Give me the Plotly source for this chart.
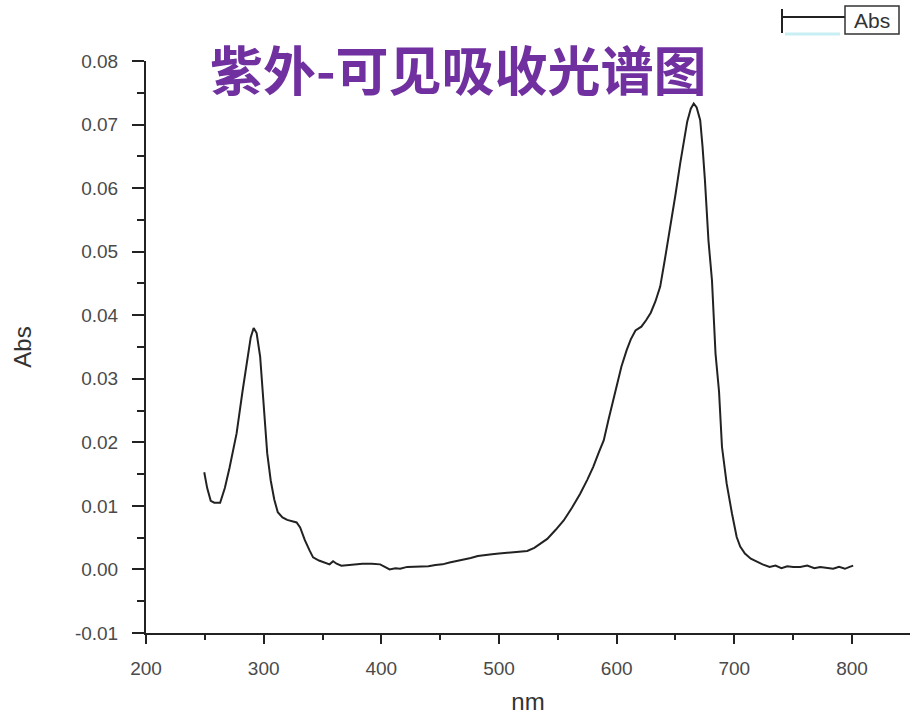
import plotly.graph_objects as go

wavelength_nm = [
    249.5, 252, 255, 258, 263, 267, 271, 277, 282, 286, 289, 291.5, 294, 297, 300,
    303, 306, 309, 312, 316, 320, 324, 328, 331, 335, 339, 342, 347, 352, 356,
    359, 362, 366, 372, 378, 384, 392, 399, 403, 407, 412, 416, 422, 428, 434,
    440, 446, 452, 458, 464, 470, 476, 482, 488, 494, 500, 506, 512, 518, 524,
    530, 536, 541, 548, 555, 562, 569, 575, 580, 585, 589, 593, 597, 600, 604,
    608.5, 612, 616, 621, 625, 629, 633, 637, 641, 645, 650, 654, 657, 660, 663,
    665.5, 668, 671, 673, 675, 678, 681, 684, 687, 689.5, 693.5, 698, 702, 705, 709,
    714, 719, 724, 730, 735, 740, 745, 750, 756, 762, 768, 773, 778, 784, 789,
    794, 798, 801,
]
absorbance = [
    0.0153, 0.0128, 0.0108, 0.0105, 0.0105, 0.0128, 0.0160, 0.0214, 0.0280, 0.0330, 0.0365, 0.0380, 0.0372, 0.0335, 0.0260,
    0.0183, 0.0140, 0.0110, 0.0090, 0.0082, 0.0078, 0.0076, 0.0074, 0.0066, 0.0046, 0.0030, 0.0019, 0.0014, 0.0010, 0.0008,
    0.0013, 0.0009, 0.0006, 0.0007, 0.0008, 0.0009, 0.0009, 0.0008, 0.0004, 0.0000, 0.0002, 0.0001, 0.0004, 0.0004, 0.0005,
    0.0005, 0.0007, 0.0008, 0.0011, 0.0013, 0.0016, 0.0018, 0.0021, 0.0023, 0.0024, 0.0025, 0.0026, 0.0027, 0.0028, 0.0029,
    0.0034, 0.0041, 0.0048, 0.0062, 0.0077, 0.0097, 0.0119, 0.0141, 0.0161, 0.0185, 0.0203, 0.0235, 0.0266, 0.0290, 0.0319,
    0.0345, 0.0362, 0.0376, 0.0382, 0.0392, 0.0404, 0.0422, 0.0445, 0.0488, 0.0532, 0.0590, 0.0639, 0.0672, 0.0705, 0.0725,
    0.0733, 0.0727, 0.0707, 0.0665, 0.0613, 0.0518, 0.0455, 0.0340, 0.0280, 0.0193, 0.0135, 0.0088, 0.0051, 0.0036, 0.0025,
    0.0017, 0.0012, 0.0008, 0.0004, 0.0006, 0.0002, 0.0005, 0.0004, 0.0004, 0.0006, 0.0002, 0.0004, 0.0003, 0.0001, 0.0004,
    0.0001, 0.0004, 0.0006,
]

x_ticks = [200, 300, 400, 500, 600, 700, 800]
y_ticks = [-0.01, 0.00, 0.01, 0.02, 0.03, 0.04, 0.05, 0.06, 0.07, 0.08]
y_tick_labels = ["-0.01", "0.00", "0.01", "0.02", "0.03", "0.04", "0.05", "0.06", "0.07", "0.08"]

title_text = "紫外-可见吸收光谱图"
legend_text = "Abs"

fig = go.Figure()
fig.add_trace(go.Scatter(
    x=wavelength_nm, y=absorbance, mode="lines",
    line=dict(color="#222222", width=2),
    name=legend_text, showlegend=False,
))

tick_font = dict(family="Liberation Sans, Arial", size=19, color="#4a4a4a")

fig.update_layout(
    width=910, height=715,
    margin=dict(l=146, r=0, t=61, b=82),
    paper_bgcolor="white", plot_bgcolor="white",
    xaxis=dict(
        range=[200, 849.3], tickvals=x_ticks, ticktext=[str(v) for v in x_ticks],
        showgrid=False, zeroline=False, showline=True, linecolor="#222222", linewidth=2,
        ticks="outside", ticklen=9, tickwidth=2, tickcolor="#222222",
        minor=dict(dtick=50, ticks="outside", ticklen=5, tickwidth=2, tickcolor="#222222", tick0=200),
        tickfont=tick_font, ticklabelstandoff=8,
        title=dict(text="nm", font=dict(family="Liberation Sans, Arial", size=24, color="#333333"), standoff=16),
    ),
    yaxis=dict(
        range=[-0.01, 0.08], tickvals=y_ticks, ticktext=y_tick_labels,
        showgrid=False, zeroline=False, showline=True, linecolor="#222222", linewidth=2,
        ticks="outside", ticklen=12, tickwidth=2, tickcolor="#222222",
        minor=dict(dtick=0.005, tick0=0, ticks="outside", ticklen=7, tickwidth=2, tickcolor="#222222"),
        tickfont=tick_font, ticklabelstandoff=10,
        title=dict(text="Abs", font=dict(family="Liberation Sans, Arial", size=24, color="#333333"), standoff=36),
    ),
    showlegend=False,
)

# Title
fig.add_annotation(
    text=title_text, xref="paper", yref="paper", x=(458 - 146) / 764, y=1 + (61 - 68) / 572,
    xanchor="center", yanchor="middle", showarrow=False,
    font=dict(family="Noto Sans CJK SC", size=53, color="#7030A0", weight="bold"),
)

# Legend (Origin-style) at top right
fig.add_shape(type="line", xref="paper", yref="paper",
              x0=(782 - 146) / 764, x1=(845 - 146) / 764,
              y0=1 + (61 - 17) / 572, y1=1 + (61 - 17) / 572,
              line=dict(color="#222222", width=2))
fig.add_shape(type="line", xref="paper", yref="paper",
              x0=(782 - 146) / 764, x1=(782 - 146) / 764,
              y0=1 + (61 - 9) / 572, y1=1 + (61 - 33) / 572,
              line=dict(color="#222222", width=2))
fig.add_shape(type="line", xref="paper", yref="paper",
              x0=(785 - 146) / 764, x1=(840 - 146) / 764,
              y0=1 + (61 - 34) / 572, y1=1 + (61 - 34) / 572,
              line=dict(color="#c8f0f4", width=3))
fig.add_shape(type="rect", xref="paper", yref="paper",
              x0=(845 - 146) / 764, x1=(899 - 146) / 764,
              y0=1 + (61 - 34) / 572, y1=1 + (61 - 6) / 572,
              line=dict(color="#333333", width=1.5), fillcolor="white")
fig.add_annotation(
    text=legend_text, xref="paper", yref="paper",
    x=(872 - 146) / 764, y=1 + (61 - 20) / 572, xanchor="center", yanchor="middle",
    showarrow=False,
    font=dict(family="Liberation Sans, Arial", size=21, color="#333333"),
)

fig.write_html("out.html")
